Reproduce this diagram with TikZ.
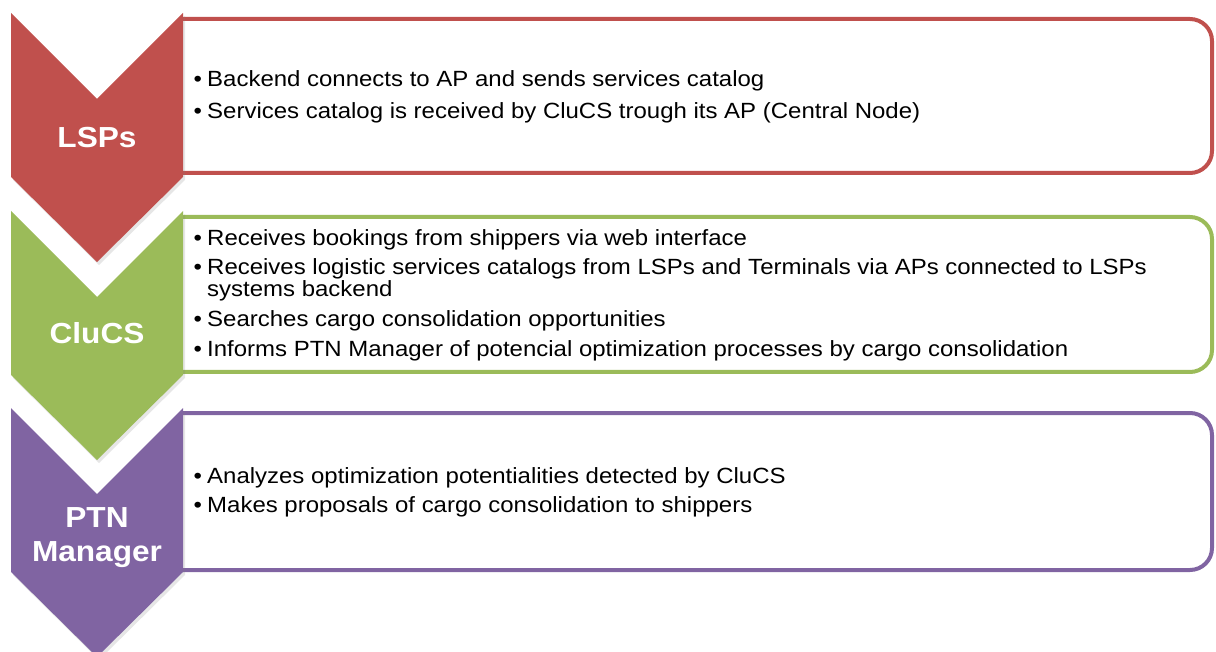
\documentclass[tikz,border=0pt]{standalone}
\usepackage{fontspec}
\setmainfont{Liberation Sans}
\newfontfamily\bodyfont[FakeStretch=1.09]{Liberation Sans}
\usetikzlibrary{shadows}
\definecolor{cred}{HTML}{C0504D}
\definecolor{cgreen}{HTML}{9BBB59}
\definecolor{cpurple}{HTML}{8064A2}
\begin{document}
\begin{tikzpicture}[x=1pt,y=-1pt,
  panel/.style={line width=4pt, rounded corners=22pt},
  chev/.style={drop shadow={opacity=0.2, shadow xshift=2pt, shadow yshift=-3pt}},
  lbl/.style={text=white, font=\bodyfont\fontsize{29}{34}\selectfont\bfseries, inner sep=0pt, anchor=base},
  txt/.style={font=\bodyfont\fontsize{22}{26}\selectfont, inner sep=0pt, anchor=base west},
  bul/.style={font=\bodyfont\fontsize{22}{26}\selectfont, inner sep=0pt, anchor=base west}
]
\useasboundingbox (0,0) rectangle (1216,652);
% panels (open on the left, hidden by the chevrons)
\draw[panel, draw=cred] (181,19) -- (1212,19) -- (1212,173) -- (181,173);
\draw[panel, draw=cgreen] (181,217) -- (1212,217) -- (1212,372) -- (181,372);
\draw[panel, draw=cpurple] (181,413) -- (1212,413) -- (1212,570) -- (181,570);
% chevrons
\foreach \t/\c in {13/cred, 211/cgreen, 408/cpurple}{
  \fill[\c, chev] (11,\t) -- (97,\t+86) -- (183,\t) -- (183,\t+164) -- (97,\t+249) -- (11,\t+164) -- cycle;
}
% labels
\node[lbl] (l1) at (97,148) {LSPs};
\node[lbl] (l2) at (97,344) {CluCS};
\node[lbl] (l3a) at (97,527) {PTN};
\node[lbl] (l3b) at (97,561) {Manager};
% red text
\node[bul] (b11) at (193.5,87) {•};
\node[txt] (t11) at (207,87) {Backend connects to AP and sends services catalog};
\node[bul] (b12) at (193.5,118.5) {•};
\node[txt] (t12) at (207,118.5) {Services catalog is received by CluCS trough its AP (Central Node)};
% green text
\node[bul] (b21) at (193.5,245.5) {•};
\node[txt] (t21) at (207,245.5) {Receives bookings from shippers via web interface};
\node[bul] (b22) at (193.5,275) {•};
\node[txt] (t22) at (207,275) {Receives logistic services catalogs from LSPs and Terminals via APs connected to LSPs};
\node[txt] (t22b) at (207,297) {systems backend};
\node[bul] (b23) at (193.5,327) {•};
\node[txt] (t23) at (207,327) {Searches cargo consolidation opportunities};
\node[bul] (b24) at (193.5,356) {•};
\node[txt] (t24) at (207,356) {Informs PTN Manager of potencial optimization processes by cargo consolidation};
% purple text
\node[bul] (b31) at (193.5,483) {•};
\node[txt] (t31) at (207,483) {Analyzes optimization potentialities detected by CluCS};
\node[bul] (b32) at (193.5,512) {•};
\node[txt] (t32) at (207,512) {Makes proposals of cargo consolidation to shippers};
\end{tikzpicture}
\end{document}
